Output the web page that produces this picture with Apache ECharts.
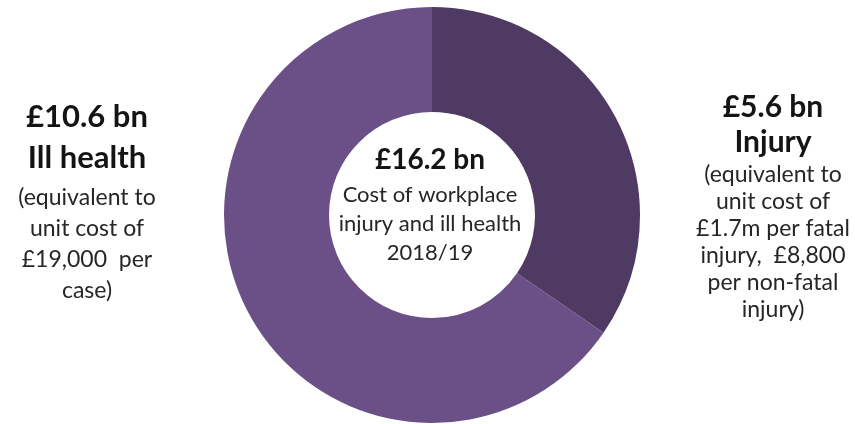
<!DOCTYPE html>
<html>
<head>
<meta charset="utf-8">
<script src="https://cdn.jsdelivr.net/npm/echarts@6/dist/echarts.min.js"></script>
<style>
  html, body { margin: 0; padding: 0; background: #fff; }
  #chart { width: 855px; height: 424px; }
</style>
</head>
<body>
<div id="chart"></div>
<script>
// Cost of workplace injury and ill health, 2018/19 (£ billion)
const categories = ['Injury', 'Ill health'];
const costs = [5.6, 10.6];
const colours = ['#4e3a62', '#6a5086'];
const totalCost = 16.2;
const periodLabel = '2018/19';
const centreNotes = ['Cost of workplace', 'injury and ill health', periodLabel];

const injuryNotes = ['(equivalent to', 'unit cost of', '£1.7m per fatal', 'injury,  £8,800', 'per non-fatal', 'injury)'];
const illHealthNotes = ['(equivalent to', 'unit cost of', '£19,000  per', 'case)'];

const FONT = 'Lato, "Open Sans", sans-serif';
const HEAD_COLOUR = '#141414';
const NOTE_COLOUR = '#262626';

const chart = echarts.init(document.getElementById('chart'), null, { renderer: 'canvas' });

// centred multi-line text block
function textBlock(x, y, lines, size, lineHeight, bold, colour) {
  return {
    type: 'text', x: x, y: y,
    style: {
      text: lines.join('\n'),
      align: 'center',
      verticalAlign: 'top',
      fontFamily: FONT,
      fontSize: size,
      fontWeight: bold ? 'bold' : 'normal',
      lineHeight: lineHeight,
      fill: colour
    }
  };
}

const bn = v => '£' + v.toFixed(1) + ' bn';

const option = {
  backgroundColor: '#fff',
  animation: false,
  series: [{
    type: 'pie',
    center: [432, 215],
    radius: [103, 208],
    startAngle: 90,
    clockwise: true,
    label: { show: false },
    labelLine: { show: false },
    itemStyle: { borderWidth: 0 },
    emphasis: { disabled: true },
    data: categories.map((c, i) => ({ name: c, value: costs[i], itemStyle: { color: colours[i] } }))
  }],
  graphic: [
    // centre of the ring
    textBlock(430, 142, [bn(totalCost)], 28, 36, true, HEAD_COLOUR),
    textBlock(430, 180.5, centreNotes, 22, 29, false, NOTE_COLOUR),
    // ill health (left)
    textBlock(87, 96, [bn(costs[1]), categories[1]], 31, 41, true, HEAD_COLOUR),
    textBlock(87, 182.5, illHealthNotes, 23, 31, false, NOTE_COLOUR),
    // injury (right)
    textBlock(773, 90, [bn(costs[0]), categories[0]], 30, 35, true, HEAD_COLOUR),
    textBlock(773, 161.5, injuryNotes, 23, 27, false, NOTE_COLOUR)
  ]
};

chart.setOption(option);
</script>
</body>
</html>
